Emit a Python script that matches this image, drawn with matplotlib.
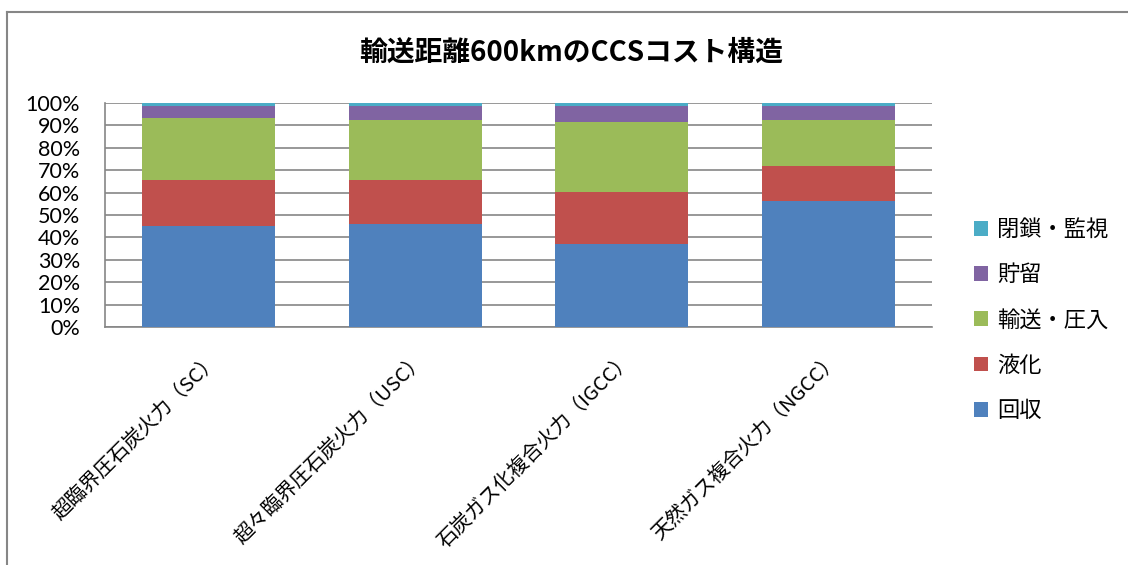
import matplotlib
matplotlib.use("Agg")
import matplotlib.pyplot as plt
from matplotlib.lines import Line2D
import numpy as np

plt.rcParams['font.family'] = ['Noto Sans CJK JP', 'DejaVu Sans']

title = "輸送距離600kmのCCSコスト構造"
categories = ["超臨界圧石炭火力（SC）", "超々臨界圧石炭火力（USC）",
              "石炭ガス化複合火力（IGCC）", "天然ガス複合火力（NGCC）"]
series_names = ["回収", "液化", "輸送・圧入", "貯留", "閉鎖・監視"]
kaishu = [44.9, 45.8, 37.2, 56.2]
ekika = [20.9, 20.0, 23.2, 15.5]
yuso = [27.6, 26.7, 31.2, 20.8]
chozo = [5.1, 6.0, 6.9, 6.0]
heisa = [1.5, 1.5, 1.5, 1.5]
yticks = [0, 10, 20, 30, 40, 50, 60, 70, 80, 90, 100]
ytick_labels = ["0%", "10%", "20%", "30%", "40%", "50%", "60%", "70%", "80%", "90%", "100%"]

colors = ["#4F81BD", "#C0504D", "#9BBB59", "#8064A2", "#4BACC6"]
grid_c = "#868686"

fig = plt.figure(figsize=(11.28, 5.65), dpi=100)
ax = fig.add_axes([105/1128, 1-327/565, (932-105)/1128, (327-103)/565])

x = np.arange(len(categories))
bottom = np.zeros(len(categories))
handles = []
for name, vals, c in zip(series_names, [kaishu, ekika, yuso, chozo, heisa], colors):
    b = ax.bar(x, vals, width=0.643, bottom=bottom, color=c, label=name, zorder=3, linewidth=0)
    bottom += np.array(vals)
    handles.append(b)

ax.set_xlim(-0.5, len(categories) - 0.5)
ax.set_ylim(0, 100)
ax.set_yticks(yticks)
ax.set_yticklabels(ytick_labels, fontsize=15.5, family=['Lato', 'DejaVu Sans'])
ax.yaxis.grid(True, color=grid_c, linewidth=1.2, zorder=0)
ax.set_axisbelow(True)
for s in ["top", "right"]:
    ax.spines[s].set_visible(False)
for s in ["left", "bottom"]:
    ax.spines[s].set_color(grid_c)
    ax.spines[s].set_linewidth(1.2)
ax.tick_params(axis='y', length=0, pad=18)
ax.tick_params(axis='x', length=0, pad=16)
ax.set_xticks(x)
ax.set_xticklabels(categories, rotation=45, ha='right', rotation_mode='anchor', fontsize=14.5)

fig.text(0.506, 1-53/565, title, ha='center', va='center', fontsize=20, fontweight='bold')

leg = ax.legend(handles[::-1], series_names[::-1], loc='center left',
                bbox_to_anchor=(965/1128, 1-320/565), bbox_transform=fig.transFigure,
                frameon=False, fontsize=16, handlelength=0.65, handleheight=0.65,
                handletextpad=0.4, labelspacing=1.0, borderaxespad=0)

# outer chart border (left and top visible)
fig.add_artist(Line2D([7/1128, 7/1128], [0, 1-12/565], transform=fig.transFigure, color=grid_c, linewidth=1.5))
fig.add_artist(Line2D([7/1128, 1], [1-12/565, 1-12/565], transform=fig.transFigure, color=grid_c, linewidth=1.5))

fig.savefig("out.png", dpi=100)
